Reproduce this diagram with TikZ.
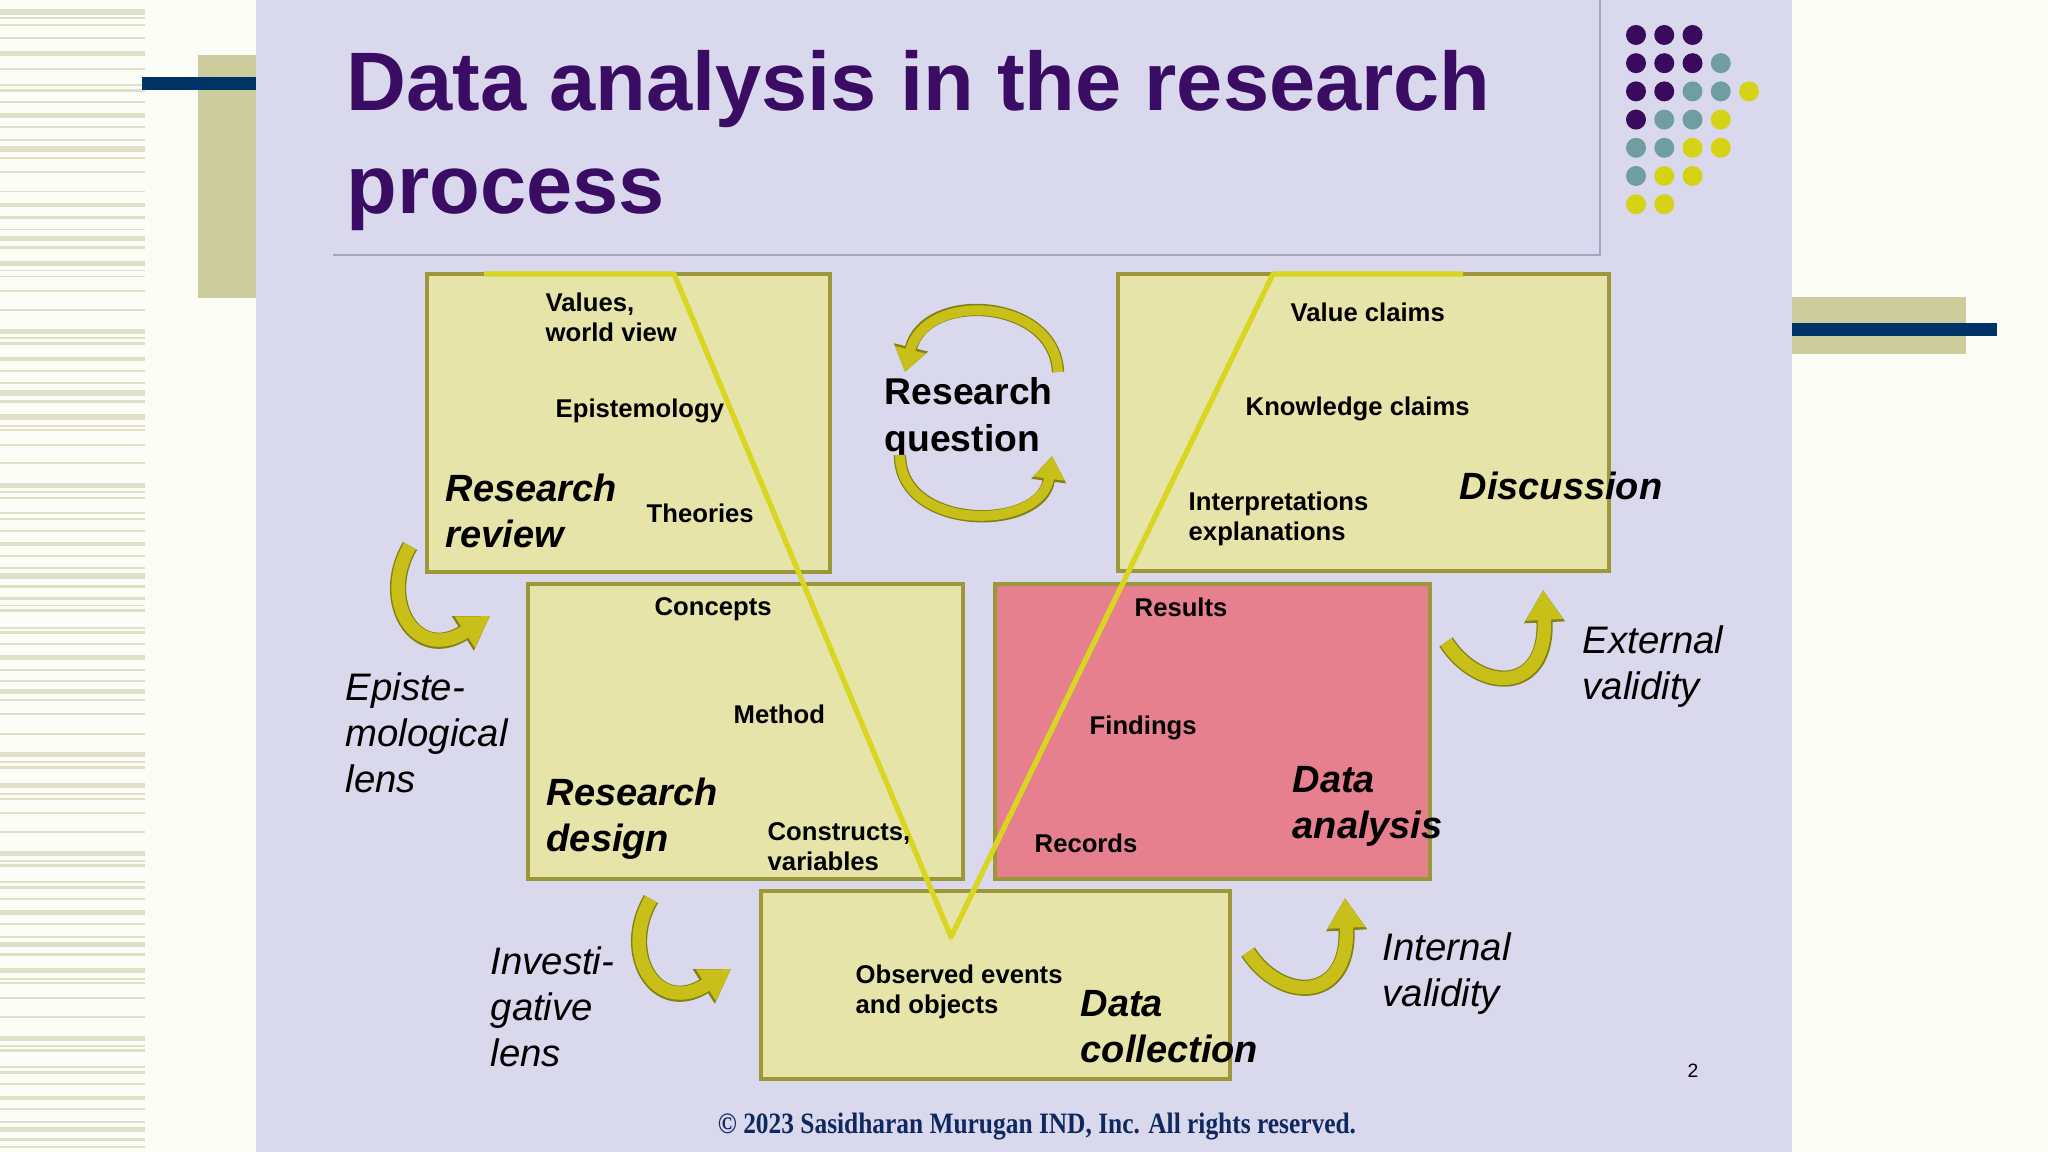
\documentclass[tikz,border=0pt]{standalone}
\usepackage{fontspec}
\setmainfont{Liberation Sans}
\newfontfamily\timesfont{Liberation Serif}
\usetikzlibrary{arrows.meta}
\definecolor{slidebg}{RGB}{217,216,236}
\definecolor{sidebg}{RGB}{253,253,248}
\definecolor{stripe}{RGB}{224,224,202}
\definecolor{beigebar}{RGB}{204,204,156}
\definecolor{navybar}{RGB}{0,51,102}
\definecolor{framegrey}{RGB}{160,166,196}
\definecolor{titlepurple}{RGB}{58,12,100}
\definecolor{dotP}{RGB}{58,10,92}
\definecolor{dotT}{RGB}{112,158,160}
\definecolor{dotY}{RGB}{214,210,22}
\definecolor{boxfill}{RGB}{230,228,168}
\definecolor{boxedge}{RGB}{156,152,58}
\definecolor{pinkfill}{RGB}{230,128,142}
\definecolor{vline}{RGB}{216,214,32}
\definecolor{arwfill}{RGB}{200,192,24}
\definecolor{arwedge}{RGB}{132,128,20}
\definecolor{copyblue}{RGB}{16,40,96}

\begin{document}
\begin{tikzpicture}[x=0.01cm, y=-0.01cm,
	box/.style={draw=boxedge, line width=1.1pt, fill=boxfill, inner sep=0pt},
	sm/.style={font=\fontsize{7.3}{8.54}\selectfont\bfseries, anchor=north west, inner sep=0pt, align=left},
	big/.style={font=\fontsize{10.8}{13.1}\selectfont\bfseries\itshape, anchor=north west, inner sep=0pt, align=left},
	lens/.style={font=\fontsize{10.9}{13.1}\selectfont\itshape, anchor=north west, inner sep=0pt, align=left},
	curl/.style={draw=arwfill, line width=3.8pt, -{Triangle[width=10pt,length=8.5pt]},
		preaction={draw=arwedge, line width=4.6pt, -{Triangle[width=11pt,length=9.2pt]}}},
	loop/.style={draw=arwfill, line width=2.8pt, -{Triangle[width=8.5pt,length=6.5pt]},
		preaction={draw=arwedge, line width=3.5pt, -{Triangle[width=9.5pt,length=7.2pt]}}}]
	\useasboundingbox (0,0) rectangle (2048,1152);
	% background
	\fill[sidebg] (0,0) rectangle (2048,1152);
	\foreach \ya/\yb in {9/15,17/19,24/26,37/39,51/56,68/70,84/86,89/92,101/103,113/118,126/128,139/141,146/152,157/159,171/173,191/192.5,203/207,216/219,229/230.5,236/241,246/249,261/266,270/271.5,276/277.5,290/292,309/311,329/334,337/339,342/345,357/361,370/372,382/384,390/396,400/403,414/420,425/427,429/431,444/446,462/464,483/488,491/493,497/499,512/514,518/520,530/532,542/546,555/557,567/569,573/579,585/588,597/600,605/606.5,609/612,627/628.5,631/634,643/645,655/660,669/671,680/682,689/694,699/701,713/714.5,733/735,752/757,761/763,766/769,783/788,793/795,798/799.5,812/814,831/833,851/856,860/862,864/867,881/883,886/889,898/900,910/915,923/925,936/937.5,942/947,953/956,968/973,978/980,982/984,997/998.5,1016/1018,1036/1041,1045/1047,1049/1052,1066/1068,1071/1074,1083/1084.5,1096/1100,1108/1110,1121/1123,1127/1132,1138/1141,1146/1148}
		\fill[stripe] (0,\ya) rectangle (145,\yb);
	\fill[slidebg] (256,0) rectangle (1792,1152);
	\fill[beigebar] (198,55) rectangle (256,298);
	\fill[navybar] (142,77) rectangle (256,90);
	\fill[beigebar] (1792,297) rectangle (1966,354);
	\fill[navybar] (1792,323) rectangle (1997,336);
	\draw[framegrey, line width=0.6pt] (333,255) -- (1600,255) -- (1600,0);
	\foreach \c/\r/\k in {0/0/dotP,1/0/dotP,2/0/dotP,
		0/1/dotP,1/1/dotP,2/1/dotP,3/1/dotT,
		0/2/dotP,1/2/dotP,2/2/dotT,3/2/dotT,4/2/dotY,
		0/3/dotP,1/3/dotT,2/3/dotT,3/3/dotY,
		0/4/dotT,1/4/dotT,2/4/dotY,3/4/dotY,
		0/5/dotT,1/5/dotY,2/5/dotY,
		0/6/dotY,1/6/dotY}
		\fill[\k] (1636+28.25*\c,35+28.2*\r) circle (10);
	\node[font=\fontsize{23.6}{29.2}\selectfont\bfseries, text=titlepurple, anchor=north west, inner sep=0pt, align=left] (ttl) at (346,50) {Data analysis in the research\\process};

	% boxes
	\node[box, minimum width=4.03cm, minimum height=2.98cm] (rev) at (628.5,423) {};
	\node[box, minimum width=4.91cm, minimum height=2.97cm] (disc) at (1363.5,422.5) {};
	\node[box, minimum width=4.35cm, minimum height=2.95cm] (des) at (745.5,731.5) {};
	\node[box, fill=pinkfill, minimum width=4.35cm, minimum height=2.95cm] (ana) at (1212.5,731.5) {};
	\node[box, minimum width=4.69cm, minimum height=1.88cm] (col) at (995.5,985) {};

	% the V
	\coordinate (v1) at (484,274);
	\coordinate (v2) at (674,274);
	\coordinate (v3) at (951,937);
	\coordinate (v4) at (1273,274);
	\coordinate (v5) at (1463,274);
	\draw[vline, line width=1.5pt, line join=round] (v1) -- (v2) -- (v3) -- (v4) -- (v5);

	% box texts
	\node[sm] (val) at (545,292) {Values,\\world view};
	\node[sm] (epi) at (555,398) {Epistemology};
	\node[sm] (theo) at (646,503) {Theories};
	\node[big] (rrev) at (445,473) {Research\\review};
	\node[sm] (vcl) at (1290,302) {Value claims};
	\node[sm] (kcl) at (1245,396) {Knowledge claims};
	\node[sm] (intp) at (1188,491) {Interpretations\\explanations};
	\node[big] (dsc) at (1459,471) {Discussion};
	\node[sm] (cpt) at (654,597) {Concepts};
	\node[sm] (mth) at (733,704) {Method};
	\node[big] (rdes) at (546,777) {Research\\design};
	\node[sm] (cns) at (767,822) {Constructs,\\variables};
	\node[sm] (res) at (1134,597) {Results};
	\node[sm] (fnd) at (1089,715) {Findings};
	\node[sm] (rec) at (1034,833) {Records};
	\node[big] (dana) at (1292,766) {Data\\analysis};
	\node[sm] (obs) at (855,964) {Observed events\\and objects};
	\node[big] (dcol) at (1080,990) {Data\\collection};

	% research question
	\node[font=\fontsize{10.6}{13.4}\selectfont\bfseries, anchor=north west, inner sep=0pt, align=left] (rq) at (884,377) {Research\\question};
	\coordinate (q1) at (1058,372);
	\coordinate (q2) at (905,372);
	\coordinate (q3) at (900,455);
	\coordinate (q4) at (1052,456);
	\draw[loop] (q1) .. controls (1055,298) and (925,290) .. (q2);
	\draw[loop] (q3) .. controls (900,532) and (1042,532) .. (q4);

	% lenses and validity
	\node[lens] (elens) at (345,672) {Episte-\\mological\\lens};
	\node[lens] (ilens) at (490,946) {Investi-\\gative\\lens};
	\node[lens] (ext) at (1582,625) {External\\validity};
	\node[lens] (int) at (1382,932) {Internal\\validity};
	\coordinate (e1) at (410,546);
	\coordinate (e2) at (490,616);
	\coordinate (n1) at (651,899);
	\coordinate (n2) at (731,969);
	\coordinate (x1) at (1446,642);
	\coordinate (x2) at (1543,590);
	\coordinate (w1) at (1248,952);
	\coordinate (w2) at (1345,898);
	\draw[curl] (e1) .. controls (378,600) and (415,664) .. (e2);
	\draw[curl] (n1) .. controls (619,953) and (656,1017) .. (n2);
	\draw[curl] (x1) .. controls (1480,694) and (1548,694) .. (x2);
	\draw[curl] (w1) .. controls (1282,1004) and (1350,1002) .. (w2);

	\node[font=\fontsize{5.5}{6}\selectfont] (pg) at (1693,1071) {2};
	\node[font=\timesfont\fontsize{8.4}{9}\selectfont\bfseries, text=copyblue, inner sep=0pt] (copy) at (1037,1127) {\scalebox{0.86}[1]{\textcopyright{} 2023 Sasidharan Murugan IND, Inc. All rights reserved.}};
\end{tikzpicture}
\end{document}
